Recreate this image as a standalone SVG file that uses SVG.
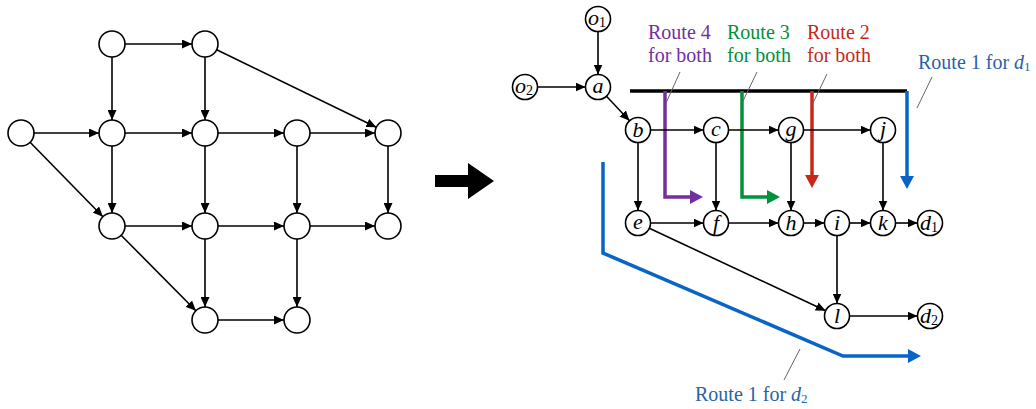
<svg xmlns="http://www.w3.org/2000/svg" width="1036" height="409" viewBox="0 0 1036 409">
<style>
text{font-family:"Liberation Serif",serif}
.n{fill:#fff;stroke:#000;stroke-width:1.6}
.e{stroke:#000;stroke-width:1.6;fill:none;marker-end:url(#ah)}
.lbl{font-style:italic;font-size:22px;fill:#000;text-anchor:middle}
.sub{font-style:normal;font-size:14px}
.rt{font-size:20px}
.lead{stroke:#666;stroke-width:1;fill:none}
.route{fill:none;stroke-width:3.5}
</style>
<defs>
<marker id="ah" markerUnits="userSpaceOnUse" markerWidth="10" markerHeight="9" refX="10" refY="4.5" orient="auto">
<path d="M0,0 L10,4.5 L0,9 z" fill="#000"/>
</marker>
</defs>
<rect width="1036" height="409" fill="#fff"/>

<!-- Left graph connectors -->
<g id="left-connectors">
<line class="e" x1="125" y1="44" x2="192" y2="44"/>
<line class="e" x1="112" y1="57" x2="112" y2="120"/>
<line class="e" x1="205" y1="57" x2="205" y2="120"/>
<line class="e" x1="216.7" y1="49.7" x2="376.3" y2="127.3"/>
<line class="e" x1="34" y1="133" x2="99" y2="133"/>
<line class="e" x1="30.1" y1="142.3" x2="102.9" y2="216.7"/>
<line class="e" x1="125" y1="133" x2="192" y2="133"/>
<line class="e" x1="218" y1="133" x2="284" y2="133"/>
<line class="e" x1="310" y1="133" x2="375" y2="133"/>
<line class="e" x1="112" y1="146" x2="112" y2="213"/>
<line class="e" x1="205" y1="146" x2="205" y2="213"/>
<line class="e" x1="297" y1="146" x2="297" y2="213"/>
<line class="e" x1="388" y1="146" x2="388" y2="213"/>
<line class="e" x1="125" y1="226" x2="192" y2="226"/>
<line class="e" x1="218" y1="226" x2="284" y2="226"/>
<line class="e" x1="310" y1="226" x2="375" y2="226"/>
<line class="e" x1="121.1" y1="235.2" x2="195.9" y2="310.8"/>
<line class="e" x1="205" y1="239" x2="205" y2="307"/>
<line class="e" x1="297" y1="239" x2="297" y2="307"/>
<line class="e" x1="218" y1="320" x2="284" y2="320"/>
</g>

<!-- Left graph nodes -->
<g id="L1"><circle class="n" cx="112" cy="44" r="13"/></g>
<g id="L2"><circle class="n" cx="205" cy="44" r="13"/></g>
<g id="L3"><circle class="n" cx="21" cy="133" r="13"/></g>
<g id="L4"><circle class="n" cx="112" cy="133" r="13"/></g>
<g id="L5"><circle class="n" cx="205" cy="133" r="13"/></g>
<g id="L6"><circle class="n" cx="297" cy="133" r="13"/></g>
<g id="L7"><circle class="n" cx="388" cy="133" r="13"/></g>
<g id="L8"><circle class="n" cx="112" cy="226" r="13"/></g>
<g id="L9"><circle class="n" cx="205" cy="226" r="13"/></g>
<g id="L10"><circle class="n" cx="297" cy="226" r="13"/></g>
<g id="L11"><circle class="n" cx="388" cy="226" r="13"/></g>
<g id="L12"><circle class="n" cx="205" cy="320" r="13"/></g>
<g id="L13"><circle class="n" cx="297" cy="320" r="13"/></g>

<!-- Big arrow -->
<g id="big-arrow"><polygon points="435,175 468,175 468,163 494,181 468,199 468,187 435,187" fill="#000"/></g>

<!-- Route highlights -->
<g id="routes">
<line x1="630" y1="91" x2="907" y2="91" stroke="#000" stroke-width="3.5"/>
<path class="route" stroke="#7030A0" d="M665,91 V197 H691"/>
<polygon fill="#7030A0" points="690,190 703,197 690,204"/>
<path class="route" stroke="#00913A" d="M742,91 V197 H768"/>
<polygon fill="#00913A" points="767,190 780,197 767,204"/>
<path class="route" stroke="#C8281A" d="M812,91 V176"/>
<polygon fill="#C8281A" points="805,175 812,188 819,175"/>
<path class="route" stroke="#0A64C8" d="M907,91 V177"/>
<polygon fill="#0A64C8" points="900,176 907,189 914,176"/>
<path class="route" stroke="#0A64C8" d="M603,162 V253 L843,356 H909"/>
<polygon fill="#0A64C8" points="908,349 921,356 908,363"/>
</g>

<!-- Right graph connectors -->
<g id="right-connectors">
<line class="e" x1="598" y1="31.5" x2="598" y2="74.5"/>
<line class="e" x1="537.5" y1="87" x2="585.5" y2="87"/>
<line class="e" x1="606.5" y1="96.2" x2="629.5" y2="120.8"/>
<line class="e" x1="650.5" y1="130" x2="703.5" y2="130"/>
<line class="e" x1="728.5" y1="130" x2="778.5" y2="130"/>
<line class="e" x1="803.5" y1="130" x2="870.5" y2="130"/>
<line class="e" x1="638" y1="142.5" x2="638" y2="210.5"/>
<line class="e" x1="716" y1="142.5" x2="716" y2="210.5"/>
<line class="e" x1="791" y1="142.5" x2="791" y2="210.5"/>
<line class="e" x1="883" y1="142.5" x2="883" y2="210.5"/>
<line class="e" x1="650.5" y1="223" x2="703.5" y2="223"/>
<line class="e" x1="728.5" y1="223" x2="778.5" y2="223"/>
<line class="e" x1="803.5" y1="223" x2="824.5" y2="223"/>
<line class="e" x1="849.5" y1="223" x2="870.5" y2="223"/>
<line class="e" x1="895.5" y1="223" x2="917.5" y2="223"/>
<line class="e" x1="837" y1="235.5" x2="837" y2="303.5"/>
<line class="e" x1="649.3" y1="228.3" x2="825.7" y2="310.7"/>
<line class="e" x1="849.5" y1="316" x2="917.5" y2="316"/>
</g>

<!-- Right graph nodes -->
<g id="o1"><circle class="n" cx="598" cy="19" r="12.5"/><text class="lbl" x="597" y="25">o<tspan class="sub" dy="2">1</tspan></text></g>
<g id="o2"><circle class="n" cx="525" cy="87" r="12.5"/><text class="lbl" x="524" y="93">o<tspan class="sub" dy="2">2</tspan></text></g>
<g id="a"><circle class="n" cx="598" cy="87" r="12.5"/><text class="lbl" x="598" y="93">a</text></g>
<g id="b"><circle class="n" cx="638" cy="130" r="12.5"/><text class="lbl" x="638" y="137">b</text></g>
<g id="c"><circle class="n" cx="716" cy="130" r="12.5"/><text class="lbl" x="716" y="136">c</text></g>
<g id="g"><circle class="n" cx="791" cy="130" r="12.5"/><text class="lbl" x="791" y="136">g</text></g>
<g id="j"><circle class="n" cx="883" cy="130" r="12.5"/><text class="lbl" x="883" y="136">j</text></g>
<g id="e"><circle class="n" cx="638" cy="223" r="12.5"/><text class="lbl" x="638" y="229">e</text></g>
<g id="f"><circle class="n" cx="716" cy="223" r="12.5"/><text class="lbl" x="716" y="230">f</text></g>
<g id="h"><circle class="n" cx="791" cy="223" r="12.5"/><text class="lbl" x="791" y="230">h</text></g>
<g id="i"><circle class="n" cx="837" cy="223" r="12.5"/><text class="lbl" x="837" y="230">i</text></g>
<g id="k"><circle class="n" cx="883" cy="223" r="12.5"/><text class="lbl" x="883" y="230">k</text></g>
<g id="d1"><circle class="n" cx="930" cy="223" r="12.5"/><text class="lbl" x="929" y="230">d<tspan class="sub" dy="2">1</tspan></text></g>
<g id="l"><circle class="n" cx="837" cy="316" r="12.5"/><text class="lbl" x="837" y="323">l</text></g>
<g id="d2"><circle class="n" cx="930" cy="316" r="12.5"/><text class="lbl" x="929" y="323">d<tspan class="sub" dy="2">2</tspan></text></g>

<!-- Route labels -->
<g id="route-labels">
<line class="lead" x1="680" y1="72" x2="666" y2="103"/>
<line class="lead" x1="757" y1="72" x2="742" y2="103"/>
<line class="lead" x1="827" y1="74" x2="812" y2="105"/>
<line class="lead" x1="932" y1="77" x2="917" y2="108"/>
<line class="lead" x1="800" y1="349" x2="784" y2="380"/>
<text class="rt" fill="#7030A0" x="648" y="39">Route 4</text>
<text class="rt" fill="#7030A0" x="648" y="62">for both</text>
<text class="rt" fill="#00913A" x="727" y="39">Route 3</text>
<text class="rt" fill="#00913A" x="727" y="62">for both</text>
<text class="rt" fill="#C8281A" x="807" y="39">Route 2</text>
<text class="rt" fill="#C8281A" x="807" y="62">for both</text>
<text class="rt" fill="#2A62A8" x="918" y="69">Route 1 for <tspan font-style="italic">d</tspan><tspan font-size="13" dy="2">1</tspan></text>
<text class="rt" fill="#2A62A8" x="695" y="401">Route 1 for <tspan font-style="italic">d</tspan><tspan font-size="13" dy="2">2</tspan></text>
</g>
</svg>
